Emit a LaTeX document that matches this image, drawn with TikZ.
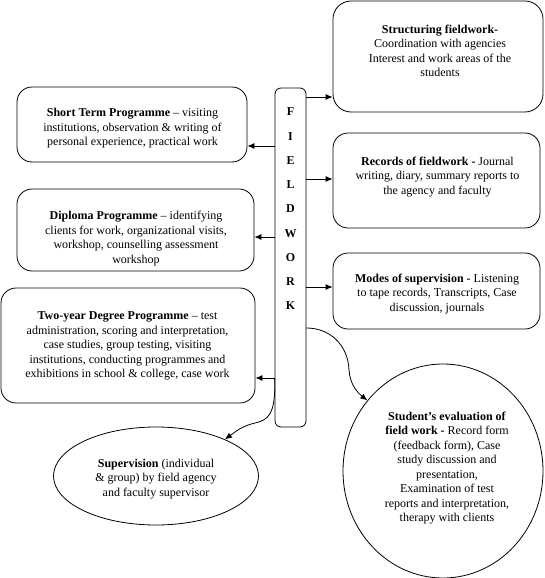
\documentclass[tikz,border=0pt]{standalone}
\usepackage{fontspec}
\setmainfont{Liberation Serif}
\usetikzlibrary{arrows.meta,shapes.geometric}
\begin{document}
\begin{tikzpicture}[x=1pt, y=-1pt,
	box/.style={shape=rectangle, draw, line width=0.8pt, rounded corners=15pt},
	oval/.style={shape=ellipse, draw, line width=0.8pt, inner sep=0pt},
	txt/.style={anchor=center, align=center, inner sep=0pt, font=\fontsize{12}{14.5}\selectfont},
	arr/.style={-{Latex[length=7pt,width=6pt]}, line width=0.8pt}]
	\useasboundingbox (0,0) rectangle (545,578);
	% Boxes and texts:
	\node[box, rounded corners=6pt, minimum width=31pt, minimum height=339pt] (fw) at (290.5, 257.5){} node[txt, font=\bfseries\fontsize{12}{24.25}\selectfont] (fwtext) at (290.5, 209){F\\I\\E\\L\\D\\W\\O\\R\\K};
	\node[box, rounded corners=18pt, minimum width=210pt, minimum height=111pt] (struct) at (438, 56.5){} node[txt] (structtext) at (440, 51){\textbf{Structuring fieldwork-}\\Coordination with agencies\\Interest and work areas of the\\students};
	\node[box, minimum width=207pt, minimum height=95pt] (records) at (436.5, 180.5){} node[txt] (recordstext) at (437.5, 177){\textbf{Records of fieldwork -} Journal\\writing, diary, summary reports to\\the agency and faculty};
	\node[box, minimum width=207pt, minimum height=76pt] (modes) at (436.5, 291){} node[txt] (modestext) at (437, 294){\textbf{Modes of supervision -} Listening\\to tape records, Transcripts, Case\\discussion, journals};
	\node[box, minimum width=230pt, minimum height=75pt] (short) at (132, 124.5){} node[txt] (shorttext) at (132.5, 128.5){\textbf{Short Term Programme} – visiting\\institutions, observation \& writing of\\personal experience, practical work};
	\node[box, minimum width=237pt, minimum height=82pt] (diploma) at (135.5, 230){} node[txt] (diplomatext) at (136, 238.5){\textbf{Diploma Programme} – identifying\\clients for work, organizational visits,\\workshop, counselling assessment\\workshop};
	\node[box, minimum width=254pt, minimum height=115pt] (twoyear) at (128, 345.5){} node[txt] (twoyeartext) at (127.5, 346){\textbf{Two-year Degree Programme} – test\\administration, scoring and interpretation,\\case studies, group testing, visiting\\institutions, conducting programmes and\\exhibitions in school \& college, case work};
	\node[oval, minimum width=205pt, minimum height=98pt] (superv) at (156, 476){} node[txt] (supervtext) at (156, 479){\textbf{Supervision} (individual\\\& group) by field agency\\and faculty supervisor};
	\node[oval, minimum width=200pt, minimum height=214pt] (student) at (443, 471){} node[txt] (studenttext) at (447, 468){\textbf{Student’s evaluation of}\\\textbf{field work -} Record form\\(feedback form), Case\\study discussion and\\presentation,\\Examination of test\\reports and interpretation,\\therapy with clients};
	% Arrows:
	\draw[arr] (fw.east |- 0,97) -- (struct.west |- 0,97);
	\draw[arr] (fw.east |- 0,179) -- (records.west |- 0,179);
	\draw[arr] (fw.east |- 0,287) -- (modes.west |- 0,287);
	\draw[arr] (fw.west |- 0,146) -- (short.east |- 0,146);
	\draw[arr] (fw.west |- 0,237) -- (diploma.east |- 0,237);
	\draw[arr] (fw.west |- 0,378) -- (twoyear.east |- 0,378);
	\draw[arr] (fw.west |- 0,378) .. controls (276,415) and (268,420) .. (255,423) .. controls (242,426) and (235,432) .. (superv.28);
	\draw[arr] (fw.east |- 0,328) .. controls (330,328) and (348,345) .. (349,370) .. controls (350,385) and (358,393) .. (student.137);
\end{tikzpicture}
\end{document}
